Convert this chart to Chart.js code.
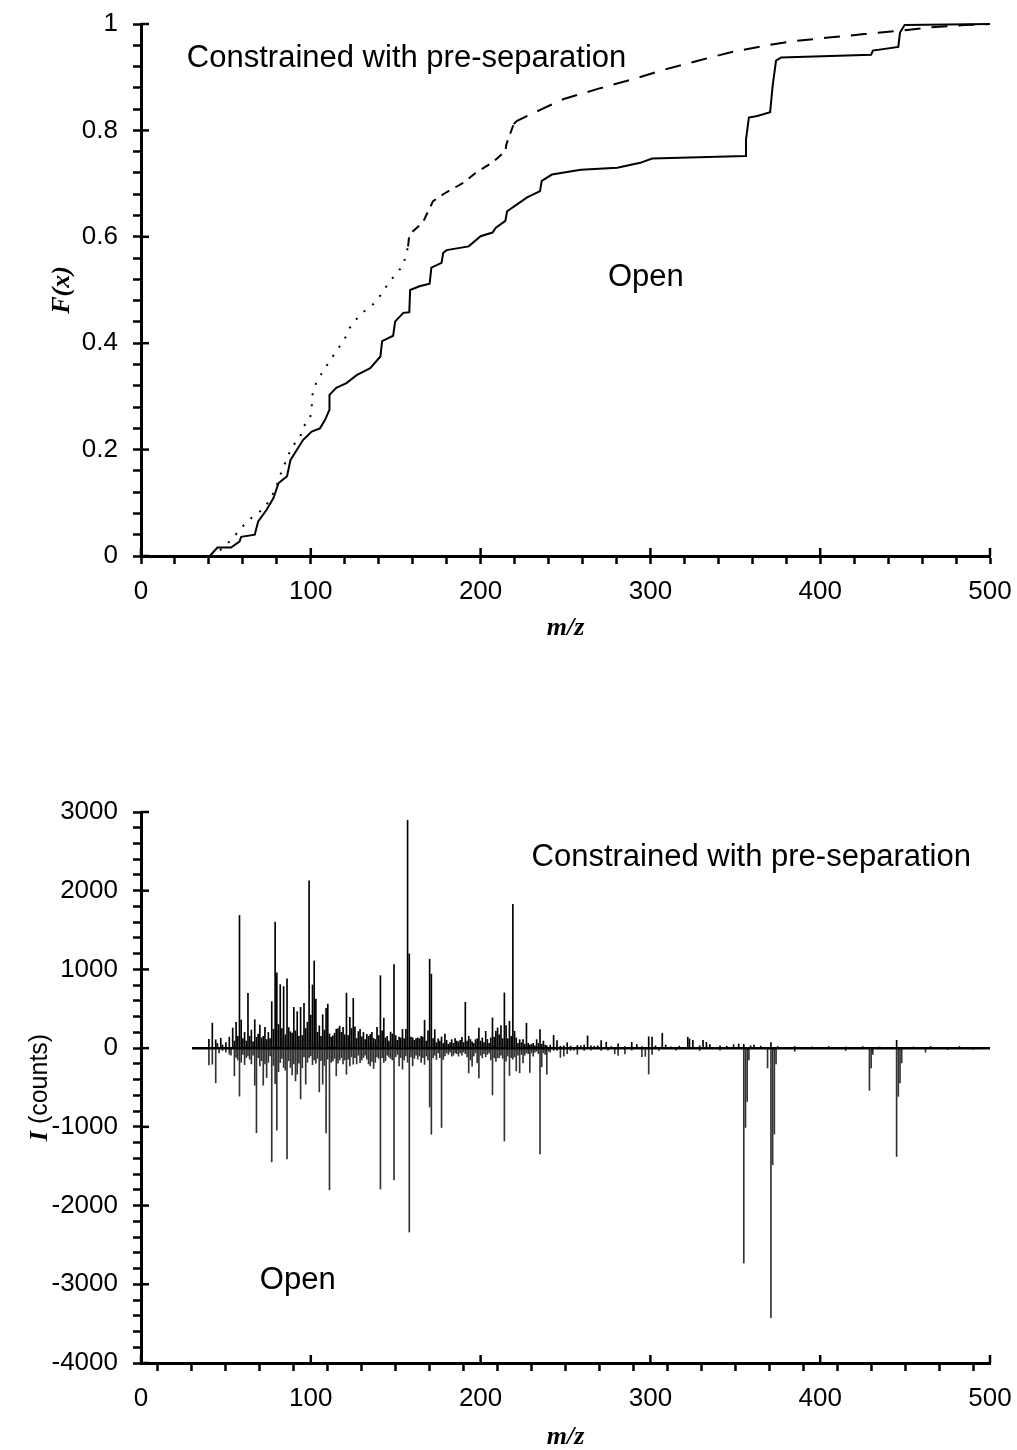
<!DOCTYPE html>
<html>
<head>
<meta charset="utf-8">
<script src="https://cdn.jsdelivr.net/npm/chart.js@4.4.0/dist/chart.umd.min.js"></script>
<style>
  body { margin: 0; background: #fff; width: 1017px; height: 1450px; overflow: hidden; }
  canvas { position: absolute; left: 0; }
  #cdf { top: 0; }
  #spec { top: 680px; }
</style>
</head>
<body>
<canvas id="cdf" width="1017" height="680"></canvas>
<canvas id="spec" width="1017" height="770"></canvas>
<script>
// ---- top panel: cumulative distributions F(x) vs m/z ----
var openMz = [40.5, 45, 53, 58, 59, 67, 69, 74, 78, 81, 86, 88, 95.4, 100.5, 105.4, 108.4, 111, 111,
  115, 121, 127, 135, 141, 142, 148.5, 149.7, 154.5, 158, 158.5, 164, 170, 171, 177, 178, 180,
  193, 200, 207, 209, 214.6, 215.6, 221.5, 227.4, 235, 236, 242, 259, 280.5, 294, 301, 356,
  356.3, 358, 363, 370.5, 372, 374, 377, 430, 431, 446, 447, 449.7, 500];
var openF = [0, 0.016, 0.016, 0.027, 0.036, 0.04, 0.065, 0.087, 0.109, 0.137, 0.15, 0.18, 0.218, 0.234,
  0.24, 0.256, 0.275, 0.303, 0.316, 0.325, 0.34, 0.353, 0.375, 0.404, 0.414, 0.441, 0.457, 0.458,
  0.5, 0.507, 0.512, 0.542, 0.551, 0.57, 0.575, 0.582, 0.601, 0.608, 0.617, 0.63, 0.648, 0.661,
  0.674, 0.686, 0.705, 0.717, 0.726, 0.73, 0.739, 0.747, 0.752, 0.783, 0.824, 0.827, 0.834,
  0.884, 0.931, 0.937, 0.942, 0.95, 0.957, 0.984, 0.998, 1.0];

var constrMz = [41, 47, 53, 60, 64, 69, 73, 79.4, 81, 83.7, 86, 89, 93.6, 95.4, 99.5, 100.5, 101, 103,
  106.4, 111, 115, 119.5, 123, 129, 136.7, 141, 146.7, 154.4, 157.3, 158, 166, 172, 178, 190,
  197, 207.5, 214.6, 215.2, 219.5, 221.5, 236, 249, 269, 288.4, 308, 328, 347.4, 367, 385,
  406.4, 426, 446, 465.4, 485, 500];
var constrF = [0, 0.012, 0.03, 0.056, 0.069, 0.081, 0.091, 0.126, 0.145, 0.165, 0.184, 0.206, 0.222,
  0.243, 0.256, 0.279, 0.303, 0.324, 0.343, 0.366, 0.385, 0.405, 0.429, 0.454, 0.473, 0.49, 0.517,
  0.546, 0.582, 0.604, 0.627, 0.667, 0.68, 0.702, 0.72, 0.741, 0.761, 0.774, 0.812, 0.818, 0.84,
  0.859, 0.878, 0.895, 0.914, 0.931, 0.947, 0.959, 0.968, 0.975, 0.981, 0.987, 0.994, 0.998, 1.0];

// ---- bottom panel: mirrored spectra, counts ----
var specConstrMz = [
  40, 42, 44, 45, 47, 48, 50, 52, 54, 55,
  56, 57, 58, 59, 60, 61, 62, 63, 64, 65,
  66, 67, 68, 69, 70, 71, 72, 73, 74, 75,
  76, 77, 78, 79, 80, 81, 82, 83, 84, 85,
  86, 87, 88, 89, 90, 91, 92, 93, 94, 95,
  96, 97, 98, 99, 100, 101, 102, 103, 104, 105,
  106, 107, 108, 109, 110, 111, 112, 113, 114, 115,
  116, 117, 118, 119, 120, 121, 122, 123, 124, 125,
  126, 127, 128, 129, 130, 131, 132, 133, 134, 135,
  136, 137, 138, 139, 140, 141, 142, 143, 144, 145,
  146, 147, 148, 149, 150, 151, 152, 153, 154, 155,
  156, 157, 158, 159, 160, 161, 162, 163, 164, 165,
  166, 167, 168, 169, 170, 171, 172, 173, 174, 175,
  176, 177, 178, 179, 180, 181, 182, 183, 184, 185,
  186, 187, 188, 189, 190, 191, 192, 193, 194, 195,
  196, 197, 198, 199, 200, 201, 202, 203, 204, 205,
  206, 207, 208, 209, 210, 211, 212, 213, 214, 215,
  216, 217, 218, 219, 220, 221, 222, 223, 224, 225,
  226, 227, 228, 229, 230, 231, 232, 233, 234, 235,
  236, 237, 238, 239, 241, 243, 245, 247, 249, 251,
  253, 257, 259, 261, 263, 265, 267, 269, 271, 274,
  277, 281, 285, 289, 292, 295, 299, 301, 303, 307,
  309, 312, 317, 322, 323, 325, 329, 331, 333, 335,
  341, 345, 349, 352, 355, 359, 361, 365, 371, 375,
  385, 395, 405, 415, 425, 435, 445, 455, 465, 482];
var specConstrCounts = [
  112, 318, 106, 60, 125, 40, 70, 140, 255, 90,
  327, 150, 1686, 357, 120, 200, 90, 696, 150, 230,
  80, 361, 136, 180, 293, 130, 150, 263, 110, 200,
  120, 591, 240, 1601, 956, 300, 807, 250, 782, 170,
  879, 260, 208, 190, 518, 220, 463, 150, 518, 160,
  569, 250, 330, 2127, 420, 803, 1108, 624, 200, 284,
  150, 424, 230, 505, 560, 180, 140, 157, 190, 240,
  250, 280, 200, 263, 170, 700, 160, 390, 250, 632,
  270, 123, 210, 240, 144, 200, 110, 174, 150, 174,
  200, 123, 110, 263, 160, 921, 220, 382, 130, 150,
  90, 204, 180, 1062, 160, 100, 140, 130, 238, 120,
  240, 2896, 1197, 140, 131, 100, 123, 130, 120, 150,
  140, 355, 90, 220, 1130, 940, 120, 235, 70, 118,
  90, 142, 60, 180, 100, 50, 70, 108, 60, 120,
  90, 80, 100, 138, 70, 584, 90, 150, 110, 80,
  60, 108, 120, 256, 90, 130, 70, 214, 110, 60,
  130, 384, 140, 214, 256, 170, 286, 120, 702, 286,
  120, 342, 150, 1826, 214, 130, 60, 108, 70, 110,
  50, 316, 60, 40, 50, 60, 30, 108, 60, 235,
  50, 90, 40, 30, 40, 162, 97, 25, 30, 68,
  25, 34, 30, 40, 155, 30, 25, 30, 95, 76,
  20, 55, 20, 74, 46, 20, 144, 142, 30, 190,
  40, 17, 25, 140, 117, 100, 30, 99, 74, 45,
  30, 25, 45, 53, 48, 30, 38, 25, 70, 20,
  20, 15, 20, 15, 20, 15, 100, 15, 20, 21];

var specOpenMz = [
  40, 42, 44, 46, 48, 50, 52, 53, 55, 56,
  57, 58, 59, 60, 61, 62, 63, 64, 65, 66,
  67, 68, 69, 70, 71, 72, 73, 74, 75, 76,
  77, 78, 79, 80, 81, 82, 83, 84, 85, 86,
  87, 88, 89, 90, 91, 92, 93, 94, 95, 96,
  97, 98, 99, 100, 101, 102, 103, 104, 105, 106,
  107, 108, 109, 110, 111, 112, 113, 114, 115, 116,
  117, 118, 119, 120, 121, 122, 123, 124, 125, 126,
  127, 128, 129, 130, 131, 132, 133, 134, 135, 136,
  137, 138, 139, 140, 141, 142, 143, 144, 145, 146,
  147, 148, 149, 150, 151, 152, 153, 154, 155, 156,
  157, 158, 159, 160, 161, 162, 163, 164, 165, 166,
  167, 168, 169, 170, 171, 172, 173, 174, 175, 176,
  177, 178, 179, 180, 181, 182, 183, 184, 185, 186,
  187, 188, 189, 190, 191, 192, 193, 194, 195, 196,
  197, 198, 199, 200, 201, 202, 203, 204, 205, 206,
  207, 208, 209, 210, 211, 212, 213, 214, 215, 216,
  217, 218, 219, 220, 221, 222, 223, 224, 225, 226,
  227, 228, 229, 230, 231, 232, 233, 234, 235, 236,
  237, 238, 239, 240, 241, 243, 245, 247, 249, 251,
  253, 255, 257, 261, 265, 271, 275, 279, 281, 285,
  289, 295, 297, 299, 301, 305, 315, 329, 341, 355,
  356, 357, 358, 369, 371, 372, 373, 374, 385, 415,
  429, 430, 431, 445, 446, 447, 448, 462, 475, 490];
var specOpenCounts = [
  212, 204, 440, 60, 30, 50, 76, 90, 352, 119,
  150, 610, 180, 80, 210, 120, 100, 140, 200, 90,
  471, 1075, 120, 225, 160, 471, 200, 374, 180, 100,
  1445, 220, 450, 1042, 300, 183, 130, 246, 280, 1408,
  160, 246, 340, 200, 416, 331, 190, 644, 250, 110,
  458, 180, 120, 98, 210, 150, 190, 130, 556, 160,
  458, 220, 1076, 140, 1800, 180, 161, 130, 352, 190,
  150, 120, 200, 150, 331, 140, 225, 110, 204, 120,
  200, 90, 183, 150, 120, 90, 140, 200, 225, 170,
  259, 180, 110, 130, 1790, 120, 183, 160, 90, 110,
  130, 150, 1675, 110, 80, 225, 120, 267, 150, 100,
  180, 2336, 110, 225, 130, 90, 140, 100, 180, 120,
  207, 100, 150, 748, 1094, 123, 90, 144, 60, 120,
  1008, 144, 100, 60, 80, 50, 102, 90, 60, 70,
  102, 60, 90, 50, 70, 110, 315, 150, 229, 100,
  60, 187, 378, 90, 123, 70, 110, 80, 60, 150,
  595, 123, 170, 123, 120, 90, 130, 1180, 165, 100,
  348, 120, 140, 110, 290, 90, 314, 80, 187, 90,
  60, 70, 310, 60, 102, 50, 40, 70, 1345, 238,
  60, 80, 332, 40, 50, 30, 30, 118, 102, 70,
  30, 25, 78, 30, 25, 30, 25, 72, 93, 74,
  25, 108, 104, 328, 81, 30, 25, 30, 25, 2730,
  1007, 677, 150, 252, 3425, 1482, 1092, 200, 42, 30,
  537, 252, 80, 1376, 613, 443, 188, 51, 20, 15];
var specBaselineMz = [30, 500];

// ---- ticks ----
var mzMajor = [0, 100, 200, 300, 400, 500], mzMinorStep = 20;
var fMajor = [0, 0.2, 0.4, 0.6, 0.8, 1], fMinorStep = 0.04;
var iMajor = [-4000, -3000, -2000, -1000, 0, 1000, 2000, 3000], iMinorStep = 200;

var SANS = '"Liberation Sans", Arial, sans-serif';
var SERIF = '"Liberation Serif", "Times New Roman", serif';
Chart.defaults.font.family = SANS;
Chart.defaults.color = '#000';

function seq(from, to, step) {
  var out = [];
  for (var k = 0; from + k * step <= to + step / 2; k++) out.push(Math.round((from + k * step) * 1000) / 1000);
  return out;
}
function isMajor(v, majors) {
  return majors.some(function (m) { return Math.abs(m - v) < 1e-6; });
}
// fixed axis box size; label overhang must not shrink the plot area
function fixSize(prop, size) {
  return function (s) {
    s[prop] = size;
    s.paddingLeft = s.paddingRight = s.paddingTop = s.paddingBottom = 0;
  };
}
function axis(min, max, majors, step, extra, pad) {
  var a = {
    type: 'linear', min: min, max: max,
    border: { display: true, color: '#000', width: 3 },
    grid: { drawOnChartArea: false, drawTicks: true, tickLength: 8, tickWidth: 2.5, tickColor: '#000' },
    afterBuildTicks: function (s) {
      s.ticks = seq(min, max, step).map(function (v) { return { value: v }; });
    },
    ticks: {
      autoSkip: false, maxRotation: 0, color: '#000', padding: pad,
      font: { size: 26, family: SANS },
      callback: function (v) {
        if (!isMajor(v, majors)) return '';
        return String(Math.round(v * 100) / 100);
      }
    }
  };
  for (var k in extra) a[k] = extra[k];
  return a;
}

// axis titles, in-plot notes and the inner half of the major ticks
function decor(cfg) {
  return {
    id: 'decor',
    afterDraw: function (chart) {
      var ctx = chart.ctx, a = chart.chartArea, sx = chart.scales.x, sy = chart.scales.y;
      ctx.save();
      ctx.strokeStyle = '#000';
      ctx.lineWidth = 2.5;
      cfg.xMajor.forEach(function (v) {
        var p = sx.getPixelForValue(v);
        ctx.beginPath(); ctx.moveTo(p, a.bottom); ctx.lineTo(p, a.bottom - 8); ctx.stroke();
      });
      cfg.yMajor.forEach(function (v) {
        var p = sy.getPixelForValue(v);
        ctx.beginPath(); ctx.moveTo(a.left, p); ctx.lineTo(a.left + 8, p); ctx.stroke();
      });
      ctx.fillStyle = '#000';
      ctx.textBaseline = 'middle';
      ctx.textAlign = 'left';
      ctx.font = '31px ' + SANS;
      cfg.notes.forEach(function (n) {
        ctx.fillText(n.text, sx.getPixelForValue(n.x), sy.getPixelForValue(n.y));
      });
      drawParts(ctx, cfg.xTitle, (a.left + a.right) / 2, a.bottom + cfg.xTitleGap, 0);
      drawParts(ctx, cfg.yTitle, cfg.yTitleX, (a.top + a.bottom) / 2, -Math.PI / 2);
      ctx.restore();
    }
  };
}
function drawParts(ctx, parts, cx, cy, angle) {
  ctx.save();
  ctx.translate(cx, cy);
  ctx.rotate(angle);
  var total = 0, widths = [];
  parts.forEach(function (p) { ctx.font = p.font; var w = ctx.measureText(p.text).width; widths.push(w); total += w; });
  var x = -total / 2;
  ctx.textAlign = 'left';
  ctx.textBaseline = 'middle';
  parts.forEach(function (p, i) { ctx.font = p.font; ctx.fillText(p.text, x, 0); x += widths[i]; });
  ctx.restore();
}

var titleFont = 'italic bold 26px ' + SERIF;

function toPoints(xs, ys, sign) {
  return xs.map(function (x, i) { return { x: x, y: sign * ys[i] }; });
}

// ---- chart 1 ----
new Chart(document.getElementById('cdf'), {
  type: 'line',
  data: {
    datasets: [
      {
        label: 'Open',
        data: toPoints(openMz, openF, 1),
        borderColor: '#000', borderWidth: 2, pointRadius: 0, tension: 0, fill: false, clip: false
      },
      {
        label: 'Constrained with pre-separation',
        data: toPoints(constrMz, constrF, 1),
        borderColor: '#000', borderWidth: 2, pointRadius: 0, tension: 0, fill: false, clip: false,
        borderDash: [16, 11],
        segment: {
          borderDash: function (c) {
            if (c.p0.parsed.x < 156) return [2, 9];
            if (c.p0.parsed.x < 216) return [9, 7];
            return [16, 11];
          }
        }
      }
    ]
  },
  options: {
    responsive: false, animation: false, events: [],
    layout: { padding: { left: 0, right: 27, top: 24, bottom: 0 } },
    plugins: { legend: { display: false }, tooltip: { enabled: false } },
    scales: {
      x: axis(0, 500, mzMajor, mzMinorStep, { position: 'bottom', afterFit: fixSize('height', 124) }, 12),
      y: axis(0, 1, fMajor, fMinorStep, { position: 'left', afterFit: fixSize('width', 141) }, 15)
    }
  },
  plugins: [decor({
    xMajor: mzMajor, yMajor: fMajor,
    notes: [
      { text: 'Constrained with pre-separation', x: 27, y: 0.936 },
      { text: 'Open', x: 275, y: 0.524 }
    ],
    xTitle: [{ text: 'm/z', font: titleFont }],
    xTitleGap: 72,
    yTitle: [{ text: 'F(x)', font: titleFont }],
    yTitleX: 62
  })]
});

// ---- chart 2 ----
new Chart(document.getElementById('spec'), {
  type: 'bar',
  data: {
    datasets: [
      {
        type: 'line',
        label: 'baseline',
        data: specBaselineMz.map(function (x) { return { x: x, y: 0 }; }),
        borderColor: '#000', borderWidth: 2.5, pointRadius: 0, fill: false, order: 0
      },
      {
        label: 'Constrained with pre-separation',
        data: toPoints(specConstrMz, specConstrCounts, 1),
        backgroundColor: '#000', borderWidth: 0, barThickness: 1, grouped: false, order: 1
      },
      {
        label: 'Open',
        data: toPoints(specOpenMz, specOpenCounts, -1),
        backgroundColor: '#333', borderWidth: 0, barThickness: 1, grouped: false, order: 1
      }
    ]
  },
  options: {
    responsive: false, animation: false, events: [],
    layout: { padding: { left: 0, right: 27, top: 132, bottom: 0 } },
    plugins: { legend: { display: false }, tooltip: { enabled: false } },
    scales: {
      x: axis(0, 500, mzMajor, mzMinorStep, { position: 'bottom', offset: false, afterFit: fixSize('height', 87) }, 12),
      y: axis(-4000, 3000, iMajor, iMinorStep, { position: 'left', afterFit: fixSize('width', 141) }, 15)
    }
  },
  plugins: [decor({
    xMajor: mzMajor, yMajor: iMajor,
    notes: [
      { text: 'Constrained with pre-separation', x: 230, y: 2420 },
      { text: 'Open', x: 70, y: -2945 }
    ],
    xTitle: [{ text: 'm/z', font: titleFont }],
    xTitleGap: 74,
    yTitle: [{ text: 'I', font: titleFont }, { text: ' (counts)', font: '25px ' + SANS }],
    yTitleX: 40
  })]
});
</script>
</body>
</html>
